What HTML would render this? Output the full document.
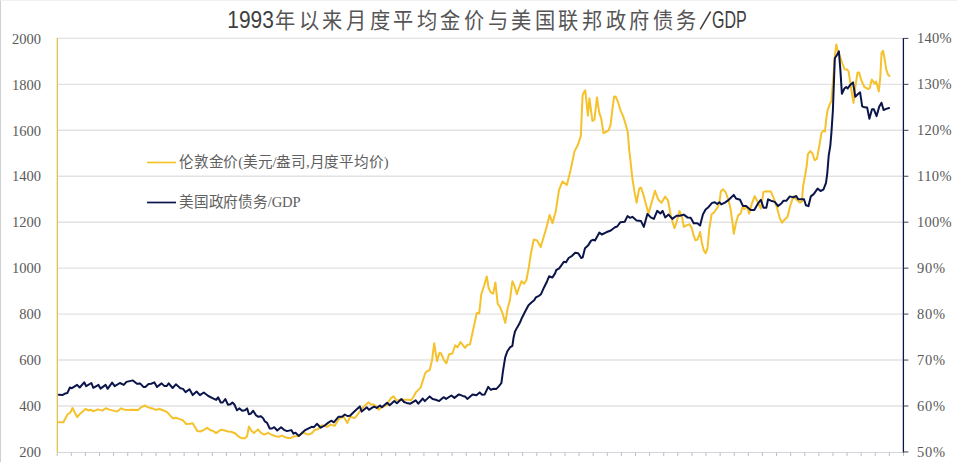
<!DOCTYPE html>
<html lang="zh-CN"><head><meta charset="utf-8"><style>
html,body{margin:0;padding:0;background:#fff;}
body{width:957px;height:462px;overflow:hidden;position:relative;}
#frame{position:absolute;left:0;top:0;width:957px;height:462px;box-sizing:border-box;border-left:1px solid #D0D0D0;border-top:1px solid #F0F0F0;}
svg{position:absolute;left:0;top:0;}
.ax{font-family:"Liberation Serif",serif;font-size:14.5px;fill:#595959;}
.lg{font-family:"Liberation Serif",serif;font-size:14.6px;fill:#606060;}
.tt{font-family:"Liberation Sans",sans-serif;font-size:22px;fill:#404040;}
.tl{font-size:24px;}
.tc{fill:#555555;}
</style></head><body><div id="frame"></div>
<svg width="957" height="462" viewBox="0 0 957 462">
<line x1="57" y1="38.40" x2="903" y2="38.40" stroke="#E2E2E2" stroke-width="1.4"/>
<line x1="57" y1="84.35" x2="903" y2="84.35" stroke="#E2E2E2" stroke-width="1.4"/>
<line x1="57" y1="130.30" x2="903" y2="130.30" stroke="#E2E2E2" stroke-width="1.4"/>
<line x1="57" y1="176.25" x2="903" y2="176.25" stroke="#E2E2E2" stroke-width="1.4"/>
<line x1="57" y1="222.20" x2="903" y2="222.20" stroke="#E2E2E2" stroke-width="1.4"/>
<line x1="57" y1="268.15" x2="903" y2="268.15" stroke="#E2E2E2" stroke-width="1.4"/>
<line x1="57" y1="314.10" x2="903" y2="314.10" stroke="#E2E2E2" stroke-width="1.4"/>
<line x1="57" y1="360.05" x2="903" y2="360.05" stroke="#E2E2E2" stroke-width="1.4"/>
<line x1="57" y1="406.00" x2="903" y2="406.00" stroke="#E2E2E2" stroke-width="1.4"/>
<line x1="57" y1="452.5" x2="904" y2="452.5" stroke="#D4D4DC" stroke-width="1"/>
<line x1="57.20" y1="452.5" x2="57.20" y2="456.0" stroke="#BDBDC4" stroke-width="1"/>
<line x1="71.31" y1="452.5" x2="71.31" y2="456.0" stroke="#BDBDC4" stroke-width="1"/>
<line x1="85.41" y1="452.5" x2="85.41" y2="456.0" stroke="#BDBDC4" stroke-width="1"/>
<line x1="99.52" y1="452.5" x2="99.52" y2="456.0" stroke="#BDBDC4" stroke-width="1"/>
<line x1="113.62" y1="452.5" x2="113.62" y2="456.0" stroke="#BDBDC4" stroke-width="1"/>
<line x1="127.73" y1="452.5" x2="127.73" y2="456.0" stroke="#BDBDC4" stroke-width="1"/>
<line x1="141.83" y1="452.5" x2="141.83" y2="456.0" stroke="#BDBDC4" stroke-width="1"/>
<line x1="155.94" y1="452.5" x2="155.94" y2="456.0" stroke="#BDBDC4" stroke-width="1"/>
<line x1="170.04" y1="452.5" x2="170.04" y2="456.0" stroke="#BDBDC4" stroke-width="1"/>
<line x1="184.15" y1="452.5" x2="184.15" y2="456.0" stroke="#BDBDC4" stroke-width="1"/>
<line x1="198.25" y1="452.5" x2="198.25" y2="456.0" stroke="#BDBDC4" stroke-width="1"/>
<line x1="212.36" y1="452.5" x2="212.36" y2="456.0" stroke="#BDBDC4" stroke-width="1"/>
<line x1="226.46" y1="452.5" x2="226.46" y2="456.0" stroke="#BDBDC4" stroke-width="1"/>
<line x1="240.56" y1="452.5" x2="240.56" y2="456.0" stroke="#BDBDC4" stroke-width="1"/>
<line x1="254.67" y1="452.5" x2="254.67" y2="456.0" stroke="#BDBDC4" stroke-width="1"/>
<line x1="268.78" y1="452.5" x2="268.78" y2="456.0" stroke="#BDBDC4" stroke-width="1"/>
<line x1="282.88" y1="452.5" x2="282.88" y2="456.0" stroke="#BDBDC4" stroke-width="1"/>
<line x1="296.99" y1="452.5" x2="296.99" y2="456.0" stroke="#BDBDC4" stroke-width="1"/>
<line x1="311.09" y1="452.5" x2="311.09" y2="456.0" stroke="#BDBDC4" stroke-width="1"/>
<line x1="325.19" y1="452.5" x2="325.19" y2="456.0" stroke="#BDBDC4" stroke-width="1"/>
<line x1="339.30" y1="452.5" x2="339.30" y2="456.0" stroke="#BDBDC4" stroke-width="1"/>
<line x1="353.40" y1="452.5" x2="353.40" y2="456.0" stroke="#BDBDC4" stroke-width="1"/>
<line x1="367.51" y1="452.5" x2="367.51" y2="456.0" stroke="#BDBDC4" stroke-width="1"/>
<line x1="381.62" y1="452.5" x2="381.62" y2="456.0" stroke="#BDBDC4" stroke-width="1"/>
<line x1="395.72" y1="452.5" x2="395.72" y2="456.0" stroke="#BDBDC4" stroke-width="1"/>
<line x1="409.82" y1="452.5" x2="409.82" y2="456.0" stroke="#BDBDC4" stroke-width="1"/>
<line x1="423.93" y1="452.5" x2="423.93" y2="456.0" stroke="#BDBDC4" stroke-width="1"/>
<line x1="438.04" y1="452.5" x2="438.04" y2="456.0" stroke="#BDBDC4" stroke-width="1"/>
<line x1="452.14" y1="452.5" x2="452.14" y2="456.0" stroke="#BDBDC4" stroke-width="1"/>
<line x1="466.25" y1="452.5" x2="466.25" y2="456.0" stroke="#BDBDC4" stroke-width="1"/>
<line x1="480.35" y1="452.5" x2="480.35" y2="456.0" stroke="#BDBDC4" stroke-width="1"/>
<line x1="494.45" y1="452.5" x2="494.45" y2="456.0" stroke="#BDBDC4" stroke-width="1"/>
<line x1="508.56" y1="452.5" x2="508.56" y2="456.0" stroke="#BDBDC4" stroke-width="1"/>
<line x1="522.67" y1="452.5" x2="522.67" y2="456.0" stroke="#BDBDC4" stroke-width="1"/>
<line x1="536.77" y1="452.5" x2="536.77" y2="456.0" stroke="#BDBDC4" stroke-width="1"/>
<line x1="550.88" y1="452.5" x2="550.88" y2="456.0" stroke="#BDBDC4" stroke-width="1"/>
<line x1="564.98" y1="452.5" x2="564.98" y2="456.0" stroke="#BDBDC4" stroke-width="1"/>
<line x1="579.09" y1="452.5" x2="579.09" y2="456.0" stroke="#BDBDC4" stroke-width="1"/>
<line x1="593.19" y1="452.5" x2="593.19" y2="456.0" stroke="#BDBDC4" stroke-width="1"/>
<line x1="607.30" y1="452.5" x2="607.30" y2="456.0" stroke="#BDBDC4" stroke-width="1"/>
<line x1="621.40" y1="452.5" x2="621.40" y2="456.0" stroke="#BDBDC4" stroke-width="1"/>
<line x1="635.51" y1="452.5" x2="635.51" y2="456.0" stroke="#BDBDC4" stroke-width="1"/>
<line x1="649.61" y1="452.5" x2="649.61" y2="456.0" stroke="#BDBDC4" stroke-width="1"/>
<line x1="663.72" y1="452.5" x2="663.72" y2="456.0" stroke="#BDBDC4" stroke-width="1"/>
<line x1="677.82" y1="452.5" x2="677.82" y2="456.0" stroke="#BDBDC4" stroke-width="1"/>
<line x1="691.93" y1="452.5" x2="691.93" y2="456.0" stroke="#BDBDC4" stroke-width="1"/>
<line x1="706.03" y1="452.5" x2="706.03" y2="456.0" stroke="#BDBDC4" stroke-width="1"/>
<line x1="720.14" y1="452.5" x2="720.14" y2="456.0" stroke="#BDBDC4" stroke-width="1"/>
<line x1="734.24" y1="452.5" x2="734.24" y2="456.0" stroke="#BDBDC4" stroke-width="1"/>
<line x1="748.35" y1="452.5" x2="748.35" y2="456.0" stroke="#BDBDC4" stroke-width="1"/>
<line x1="762.45" y1="452.5" x2="762.45" y2="456.0" stroke="#BDBDC4" stroke-width="1"/>
<line x1="776.56" y1="452.5" x2="776.56" y2="456.0" stroke="#BDBDC4" stroke-width="1"/>
<line x1="790.66" y1="452.5" x2="790.66" y2="456.0" stroke="#BDBDC4" stroke-width="1"/>
<line x1="804.77" y1="452.5" x2="804.77" y2="456.0" stroke="#BDBDC4" stroke-width="1"/>
<line x1="818.87" y1="452.5" x2="818.87" y2="456.0" stroke="#BDBDC4" stroke-width="1"/>
<line x1="832.98" y1="452.5" x2="832.98" y2="456.0" stroke="#BDBDC4" stroke-width="1"/>
<line x1="847.08" y1="452.5" x2="847.08" y2="456.0" stroke="#BDBDC4" stroke-width="1"/>
<line x1="861.19" y1="452.5" x2="861.19" y2="456.0" stroke="#BDBDC4" stroke-width="1"/>
<line x1="875.29" y1="452.5" x2="875.29" y2="456.0" stroke="#BDBDC4" stroke-width="1"/>
<line x1="889.40" y1="452.5" x2="889.40" y2="456.0" stroke="#BDBDC4" stroke-width="1"/>
<line x1="903.50" y1="452.5" x2="903.50" y2="456.0" stroke="#BDBDC4" stroke-width="1"/>
<rect x="56" y="37.90" width="1" height="414.55" fill="#FCEFA0"/>
<rect x="57" y="37.90" width="1" height="414.55" fill="#D8C074"/>
<line x1="903.4" y1="37.90" x2="903.4" y2="452.45" stroke="#0B1549" stroke-width="1.3"/>
<line x1="903.4" y1="38.40" x2="908.4" y2="38.40" stroke="#404050" stroke-width="1"/>
<line x1="903.4" y1="84.35" x2="908.4" y2="84.35" stroke="#404050" stroke-width="1"/>
<line x1="903.4" y1="130.30" x2="908.4" y2="130.30" stroke="#404050" stroke-width="1"/>
<line x1="903.4" y1="176.25" x2="908.4" y2="176.25" stroke="#404050" stroke-width="1"/>
<line x1="903.4" y1="222.20" x2="908.4" y2="222.20" stroke="#404050" stroke-width="1"/>
<line x1="903.4" y1="268.15" x2="908.4" y2="268.15" stroke="#404050" stroke-width="1"/>
<line x1="903.4" y1="314.10" x2="908.4" y2="314.10" stroke="#404050" stroke-width="1"/>
<line x1="903.4" y1="360.05" x2="908.4" y2="360.05" stroke="#404050" stroke-width="1"/>
<line x1="903.4" y1="406.00" x2="908.4" y2="406.00" stroke="#404050" stroke-width="1"/>
<line x1="903.4" y1="451.95" x2="908.4" y2="451.95" stroke="#404050" stroke-width="1"/>
<text x="41" y="43.60" text-anchor="end" class="ax">2000</text>
<text x="41" y="89.55" text-anchor="end" class="ax">1800</text>
<text x="41" y="135.50" text-anchor="end" class="ax">1600</text>
<text x="41" y="181.45" text-anchor="end" class="ax">1400</text>
<text x="41" y="227.40" text-anchor="end" class="ax">1200</text>
<text x="41" y="273.35" text-anchor="end" class="ax">1000</text>
<text x="41" y="319.30" text-anchor="end" class="ax">800</text>
<text x="41" y="365.25" text-anchor="end" class="ax">600</text>
<text x="41" y="411.20" text-anchor="end" class="ax">400</text>
<text x="41" y="457.15" text-anchor="end" class="ax">200</text>
<text x="917" y="43.40" class="ax" textLength="34.6">140%</text>
<text x="917" y="89.35" class="ax" textLength="34.6">130%</text>
<text x="917" y="135.30" class="ax" textLength="34.6">120%</text>
<text x="917" y="181.25" class="ax" textLength="34.6">110%</text>
<text x="917" y="227.20" class="ax" textLength="34.6">100%</text>
<text x="917" y="273.15" class="ax" textLength="28.2">90%</text>
<text x="917" y="319.10" class="ax" textLength="28.2">80%</text>
<text x="917" y="365.05" class="ax" textLength="28.2">70%</text>
<text x="917" y="411.00" class="ax" textLength="28.2">60%</text>
<text x="917" y="456.95" class="ax" textLength="28.2">50%</text>
<path d="M58.8 422.3 L63.4 422.3 L67.3 414.8 L70.6 412.2 L72.5 408.0 L77.1 417.0 L81.0 412.9 L85.5 409.0 L88.8 410.5 L90.7 409.6 L93.3 411.3 L97.9 409.4 L102.4 410.6 L105.6 408.3 L109.5 409.6 L117.3 411.6 L121.2 408.3 L123.8 409.4 L127.7 410.0 L133.0 409.7 L138.2 409.9 L141.4 407.1 L144.9 405.5 L147.3 406.8 L149.2 407.7 L152.5 408.4 L155.7 409.9 L159.6 409.0 L164.2 410.7 L167.4 412.3 L170.7 416.2 L173.3 418.5 L175.9 417.7 L180.4 419.4 L183.0 420.3 L186.2 424.0 L190.1 423.7 L192.7 423.3 L197.3 431.1 L200.5 431.5 L203.8 429.8 L207.0 427.8 L210.9 430.4 L213.0 430.7 L216.2 433.1 L220.7 429.8 L224.0 430.2 L227.9 431.5 L231.1 431.8 L235.0 433.3 L238.3 436.3 L241.5 438.2 L245.0 438.2 L247.1 436.3 L248.9 426.6 L251.3 430.5 L253.9 433.1 L258.0 429.4 L261.0 432.8 L264.2 434.6 L268.1 432.8 L272.0 435.0 L275.9 436.3 L278.5 436.9 L281.8 435.6 L285.0 437.2 L288.3 438.0 L291.0 437.9 L294.2 436.3 L298.1 436.3 L303.3 432.7 L308.5 434.6 L311.7 433.3 L314.3 430.3 L318.2 429.0 L322.1 425.1 L327.3 426.8 L330.6 424.6 L334.5 425.9 L339.0 419.0 L343.5 416.4 L347.4 422.9 L350.0 416.8 L354.6 418.1 L357.2 415.1 L359.8 411.2 L363.7 406.7 L367.6 403.1 L368.6 402.4 L370.9 404.6 L373.5 404.4 L376.1 406.3 L378.7 409.8 L381.3 407.2 L386.5 405.3 L391.0 398.1 L393.6 396.4 L396.2 400.1 L398.8 400.3 L404.7 399.8 L409.2 399.8 L411.2 400.3 L413.1 397.5 L416.1 392.1 L420.6 387.6 L425.2 373.2 L427.4 370.9 L429.7 370.2 L432.0 360.3 L434.2 343.3 L437.0 361.1 L439.5 352.7 L441.1 353.5 L444.1 360.3 L446.4 363.3 L449.1 354.2 L452.4 353.5 L455.2 345.2 L457.4 347.4 L460.5 342.1 L465.0 347.9 L467.3 344.8 L470.0 344.4 L472.7 331.8 L475.0 321.2 L476.8 312.9 L479.2 313.3 L481.3 294.1 L484.1 285.8 L486.8 276.4 L488.6 288.0 L490.9 292.6 L493.2 293.6 L495.4 282.4 L497.7 303.9 L500.0 307.0 L502.2 312.3 L505.3 322.9 L507.7 308.0 L509.8 300.9 L512.4 281.2 L514.4 285.8 L516.9 294.1 L518.9 288.0 L521.5 281.2 L524.0 283.7 L526.3 280.5 L528.8 267.6 L530.8 254.1 L533.8 239.5 L537.1 240.4 L540.7 247.0 L543.3 238.3 L546.4 227.7 L549.6 214.9 L552.5 223.2 L555.8 211.0 L559.1 189.7 L562.5 181.5 L566.9 185.0 L570.5 170.5 L574.5 151.4 L577.8 145.0 L580.8 136.1 L581.8 113.3 L582.6 95.2 L583.8 92.4 L585.3 90.3 L586.4 101.2 L587.9 115.6 L589.4 98.2 L590.9 109.5 L592.4 120.9 L594.4 119.7 L597.0 97.4 L599.2 112.6 L601.1 117.9 L603.5 133.0 L606.8 131.5 L608.6 130.3 L610.6 124.7 L612.6 107.3 L614.1 96.7 L615.6 96.4 L618.2 102.7 L620.5 110.3 L623.2 116.4 L625.8 124.7 L627.7 131.5 L629.2 150.0 L630.1 157.3 L632.3 177.8 L634.5 191.9 L636.6 202.7 L639.2 188.6 L641.0 187.6 L643.5 195.1 L646.4 205.9 L648.5 213.5 L650.7 205.9 L655.0 190.8 L658.2 199.5 L661.5 202.7 L665.2 196.6 L668.0 200.5 L670.8 215.7 L674.5 228.2 L676.6 222.2 L679.4 210.9 L682.0 216.8 L683.8 226.9 L686.4 225.4 L689.6 224.3 L691.8 228.3 L693.7 235.7 L695.5 240.3 L697.7 239.3 L700.1 232.0 L701.9 243.0 L703.8 250.4 L705.6 253.1 L707.5 248.5 L709.3 228.3 L711.7 214.0 L713.9 212.7 L717.6 207.2 L719.4 202.6 L720.9 191.2 L723.1 189.3 L725.8 192.5 L728.6 200.7 L730.4 208.1 L732.3 221.0 L733.8 233.8 L736.0 222.8 L738.2 215.4 L740.6 213.6 L742.4 207.2 L744.2 209.0 L747.0 206.6 L749.2 213.6 L751.6 204.4 L754.7 196.1 L757.1 200.7 L760.8 208.5 L763.5 191.9 L766.3 191.2 L770.9 191.6 L773.8 198.4 L776.8 207.1 L779.7 217.8 L782.0 222.7 L784.5 219.8 L787.5 216.8 L790.4 205.2 L793.3 196.4 L797.2 200.3 L800.1 202.6 L802.0 201.3 L803.0 186.7 L805.0 176.0 L806.8 165.0 L807.9 154.1 L810.2 151.1 L812.4 153.3 L814.7 160.2 L817.0 158.6 L819.2 146.5 L821.5 132.9 L823.5 130.6 L825.0 131.4 L826.1 120.0 L827.6 110.2 L829.8 104.1 L831.4 101.1 L833.3 77.9 L834.8 56.7 L836.3 44.5 L837.8 51.4 L840.1 56.7 L842.4 63.5 L844.7 69.5 L846.9 69.5 L848.5 71.1 L850.0 80.9 L851.9 93.0 L853.5 102.9 L855.3 87.0 L857.5 72.6 L859.1 72.6 L861.3 80.2 L864.4 87.0 L868.3 89.1 L869.7 88.0 L871.8 79.5 L873.2 81.6 L874.6 83.8 L876.0 81.6 L877.4 85.9 L878.8 91.5 L880.2 78.1 L881.6 52.8 L883.1 50.7 L884.5 58.4 L886.3 69.7 L888.0 74.6 L889.4 76.0" fill="none" stroke="#F5C22C" stroke-width="2" stroke-linejoin="round" stroke-linecap="round"/>
<path d="M58.8 394.8 L62.8 394.9 L65.4 393.4 L67.3 393.1 L69.9 387.5 L71.9 388.2 L77.1 384.9 L79.7 387.5 L84.2 382.3 L86.2 386.2 L91.4 383.0 L93.3 387.8 L98.5 384.9 L100.5 388.6 L105.6 384.9 L107.6 388.8 L112.1 382.6 L114.7 386.2 L119.9 383.0 L123.8 384.9 L126.4 381.9 L132.9 380.4 L136.9 383.7 L140.1 383.4 L143.4 386.9 L145.3 386.9 L148.6 384.0 L151.2 383.7 L154.4 382.4 L157.0 386.9 L161.6 383.4 L164.2 385.9 L166.8 385.9 L168.7 383.4 L172.6 388.0 L175.9 384.3 L180.4 388.2 L183.0 388.9 L185.6 392.1 L189.5 389.3 L192.7 395.1 L196.6 391.5 L199.9 395.1 L203.8 392.5 L208.3 396.0 L213.0 398.3 L216.2 399.9 L218.1 397.3 L220.7 402.5 L222.7 402.5 L225.3 399.0 L227.9 404.7 L230.5 404.2 L232.4 402.5 L234.4 404.5 L237.0 410.3 L239.3 408.4 L242.2 410.7 L245.0 410.3 L247.1 408.4 L248.9 414.2 L250.6 413.8 L253.2 410.7 L255.8 415.1 L258.4 416.8 L261.0 416.2 L263.0 418.1 L264.9 421.4 L267.1 422.9 L269.7 428.5 L272.0 428.5 L274.2 427.2 L277.2 430.5 L281.1 427.2 L284.0 429.8 L287.0 431.1 L291.3 430.1 L293.5 433.7 L295.5 432.7 L298.7 435.9 L302.0 432.9 L305.2 430.1 L309.1 428.1 L311.7 426.8 L313.9 427.2 L316.9 423.8 L320.8 427.7 L324.7 425.5 L328.0 422.9 L331.2 420.7 L333.8 422.3 L338.4 416.8 L342.2 416.8 L344.8 414.5 L347.4 416.0 L350.0 415.8 L354.6 411.2 L359.8 406.4 L361.7 411.6 L366.9 407.3 L369.0 409.8 L371.5 408.2 L374.1 406.6 L376.7 407.9 L380.0 405.5 L381.9 407.2 L387.1 402.7 L389.7 405.3 L394.3 401.1 L396.9 403.3 L401.4 399.0 L404.0 402.0 L406.6 402.9 L410.5 403.7 L415.7 400.3 L418.3 403.7 L422.8 398.5 L424.8 401.1 L429.7 396.4 L432.6 399.0 L435.8 399.8 L439.1 401.1 L443.6 397.2 L446.1 398.9 L451.4 395.5 L454.4 397.9 L458.9 394.4 L462.7 395.9 L465.0 396.4 L467.3 398.9 L472.6 394.4 L476.4 395.2 L479.7 392.4 L482.1 394.8 L484.7 394.4 L488.2 386.8 L490.8 389.8 L493.8 388.8 L496.1 389.1 L498.8 386.4 L501.4 383.0 L502.9 371.7 L505.2 357.3 L507.4 351.2 L510.0 347.4 L512.4 345.9 L513.5 338.0 L515.0 331.5 L517.2 327.4 L519.6 323.3 L522.0 317.7 L525.3 311.2 L528.5 305.2 L531.7 302.3 L534.2 300.3 L535.8 297.4 L539.0 295.8 L541.0 294.2 L543.9 287.7 L547.1 281.2 L549.1 276.3 L552.3 277.6 L555.2 273.1 L556.2 270.2 L559.2 268.3 L563.8 261.8 L566.1 262.3 L568.6 258.0 L572.1 255.8 L575.2 252.7 L578.2 253.2 L581.2 258.0 L582.7 257.3 L585.0 248.2 L588.0 245.6 L591.1 240.6 L593.3 239.8 L595.0 240.5 L599.4 232.6 L601.7 234.5 L606.2 232.3 L610.8 230.5 L615.0 227.3 L617.2 226.5 L620.4 222.2 L624.7 221.7 L627.5 216.1 L630.1 217.8 L632.3 216.8 L636.6 220.4 L641.0 221.1 L643.8 226.9 L647.4 213.9 L650.7 217.4 L653.9 218.9 L657.2 210.9 L660.4 213.5 L662.6 210.9 L665.2 217.4 L668.6 214.6 L672.3 218.9 L676.6 215.7 L679.9 215.7 L683.8 214.6 L687.4 217.4 L690.7 217.8 L693.7 223.2 L697.4 223.2 L700.1 225.6 L702.9 214.5 L705.6 209.6 L708.4 207.2 L712.1 202.9 L714.8 202.2 L717.2 204.0 L719.4 202.2 L721.3 204.4 L724.9 202.6 L727.7 200.7 L730.1 198.5 L733.8 194.9 L736.0 198.5 L740.0 199.8 L742.9 205.9 L746.1 205.9 L750.7 209.9 L754.3 209.9 L758.0 203.5 L760.8 199.8 L763.5 207.7 L766.3 207.7 L768.1 199.3 L770.9 200.7 L774.8 201.9 L778.1 206.1 L781.6 203.2 L783.6 200.7 L786.5 200.7 L789.8 196.4 L793.3 197.4 L796.2 196.0 L798.2 199.3 L804.0 199.3 L805.9 205.2 L808.5 206.1 L810.8 196.4 L813.7 194.1 L817.6 188.6 L820.5 191.0 L823.4 189.6 L826.0 182.8 L827.3 173.1 L828.7 155.6 L830.3 145.8 L831.4 132.9 L832.9 110.2 L833.8 85.5 L834.8 58.2 L836.8 55.2 L838.9 51.4 L840.4 70.3 L841.9 93.8 L844.4 88.5 L846.2 87.0 L847.7 88.5 L850.4 84.7 L853.0 82.4 L855.3 96.8 L857.5 94.5 L860.1 92.3 L862.2 106.3 L864.5 107.3 L867.1 107.4 L869.4 118.8 L872.0 109.3 L873.9 109.3 L876.6 116.1 L879.2 106.7 L881.5 102.7 L883.6 110.1 L886.1 108.9 L889.1 108.0" fill="none" stroke="#0B1549" stroke-width="2" stroke-linejoin="round" stroke-linecap="round"/>
<line x1="147" y1="162.5" x2="176" y2="162.5" stroke="#F5C22C" stroke-width="1.7"/>
<line x1="147" y1="202.5" x2="176" y2="202.5" stroke="#0B1549" stroke-width="1.7"/>
<text x="179" y="166.5" class="lg" textLength="209.5">伦敦金价(美元/盎司,月度平均价)</text>
<text x="179" y="206.5" class="lg" textLength="121.5">美国政府债务/GDP</text>
<text x="227.3" y="28.3" class="tt tl" textLength="46.5" lengthAdjust="spacingAndGlyphs">1993</text>
<text transform="translate(285.30 28) scale(0.92 1)" text-anchor="middle" class="tt tc">年</text>
<text transform="translate(308.90 28) scale(0.92 1)" text-anchor="middle" class="tt tc">以</text>
<text transform="translate(332.50 28) scale(0.92 1)" text-anchor="middle" class="tt tc">来</text>
<text transform="translate(356.10 28) scale(0.92 1)" text-anchor="middle" class="tt tc">月</text>
<text transform="translate(379.70 28) scale(0.92 1)" text-anchor="middle" class="tt tc">度</text>
<text transform="translate(403.30 28) scale(0.92 1)" text-anchor="middle" class="tt tc">平</text>
<text transform="translate(426.90 28) scale(0.92 1)" text-anchor="middle" class="tt tc">均</text>
<text transform="translate(450.50 28) scale(0.92 1)" text-anchor="middle" class="tt tc">金</text>
<text transform="translate(474.10 28) scale(0.92 1)" text-anchor="middle" class="tt tc">价</text>
<text transform="translate(497.70 28) scale(0.92 1)" text-anchor="middle" class="tt tc">与</text>
<text transform="translate(521.30 28) scale(0.92 1)" text-anchor="middle" class="tt tc">美</text>
<text transform="translate(544.90 28) scale(0.92 1)" text-anchor="middle" class="tt tc">国</text>
<text transform="translate(568.50 28) scale(0.92 1)" text-anchor="middle" class="tt tc">联</text>
<text transform="translate(592.10 28) scale(0.92 1)" text-anchor="middle" class="tt tc">邦</text>
<text transform="translate(615.70 28) scale(0.92 1)" text-anchor="middle" class="tt tc">政</text>
<text transform="translate(639.30 28) scale(0.92 1)" text-anchor="middle" class="tt tc">府</text>
<text transform="translate(662.90 28) scale(0.92 1)" text-anchor="middle" class="tt tc">债</text>
<text transform="translate(686.50 28) scale(0.92 1)" text-anchor="middle" class="tt tc">务</text>
<line x1="700.2" y1="29.3" x2="710.6" y2="11.5" stroke="#404040" stroke-width="1.5"/>
<text x="712" y="28.3" class="tt tl" textLength="34.8" lengthAdjust="spacingAndGlyphs">GDP</text>
</svg></body></html>
